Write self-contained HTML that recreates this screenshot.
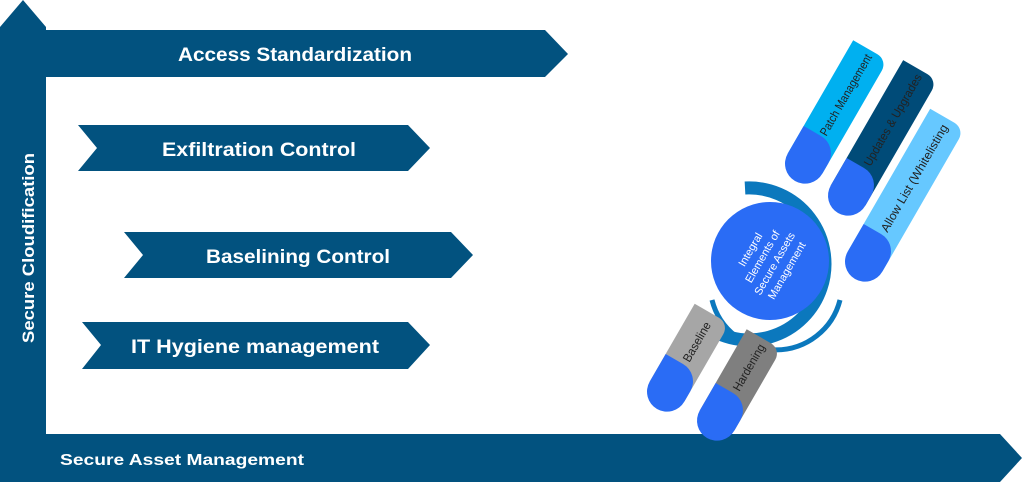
<!DOCTYPE html>
<html><head><meta charset="utf-8"><style>
html,body{margin:0;padding:0;background:#fff}
svg{display:block}
text{font-family:"Liberation Sans",sans-serif}
</style></head><body>
<svg width="1024" height="482" viewBox="0 0 1024 482">
<g fill="#02527f">
<polygon points="0,27 23,0 46,27 46,482 0,482"/>
<polygon points="46,30 545,30 568,54 545,77 46,77"/>
<polygon points="78,125 408,125 430,148 408,171 78,171 97,148"/>
<polygon points="124,232 451,232 473,255 451,278 124,278 143,255"/>
<polygon points="82,322 408,322 430,345 408,369 82,369 101,345"/>
<polygon points="0,434 1000,434 1022,458 1000,482 0,482"/>
</g>
<g fill="#fff" font-weight="bold">
<text x="295" y="61" font-size="19" text-anchor="middle" textLength="234" lengthAdjust="spacingAndGlyphs">Access Standardization</text>
<text x="259" y="156" font-size="19" text-anchor="middle" textLength="194" lengthAdjust="spacingAndGlyphs">Exfiltration Control</text>
<text x="298" y="263" font-size="19" text-anchor="middle" textLength="184" lengthAdjust="spacingAndGlyphs">Baselining Control</text>
<text x="255" y="353" font-size="19" text-anchor="middle" textLength="248" lengthAdjust="spacingAndGlyphs">IT Hygiene management</text>
<text x="60" y="465" font-size="16" textLength="244" lengthAdjust="spacingAndGlyphs">Secure Asset Management</text>
<text transform="translate(34,248) rotate(-90)" font-size="17" text-anchor="middle" textLength="190" lengthAdjust="spacingAndGlyphs">Secure Cloudification</text>
</g>
<!-- ring -->
<path d="M745,188 A76,76 0 1 1 700,322" fill="none" stroke="#0b78bd" stroke-width="13"/>
<path d="M712,300 A66,66 0 0 0 840,300" fill="none" stroke="#0b78bd" stroke-width="5"/>
<circle cx="770" cy="261" r="59" fill="#2a6cf5"/>
<g transform="translate(770,261) rotate(-60)" fill="#fff" font-size="11" text-anchor="middle">
<text x="0" y="-19">Integral</text>
<text x="0" y="-5">Elements of</text>
<text x="0" y="9">Secure Assets</text>
<text x="0" y="23">Management</text>
</g>
<!-- pills -->
<g transform="translate(810,155) rotate(30)">
<path d="M-20,10 L-20,-121 L8,-121 A12,12 0 0 1 20,-109 L20,10 Z" fill="#00b0f0"/>
<path d="M-20,-22 L0,-22 A20,20 0 0 1 20,-2 L20,10 A20,20 0 0 1 -20,10 Z" fill="#2a6cf5"/>
<text transform="translate(5,-24) rotate(-90)" font-size="12" fill="#222" textLength="92" lengthAdjust="spacingAndGlyphs">Patch Management</text>
</g>
<g transform="translate(853,187) rotate(30)">
<path d="M-20,10 L-20,-135 L8,-135 A12,12 0 0 1 20,-123 L20,10 Z" fill="#004b78"/>
<path d="M-20,-22 L0,-22 A20,20 0 0 1 20,-2 L20,10 A20,20 0 0 1 -20,10 Z" fill="#2a6cf5"/>
<text transform="translate(5,-26) rotate(-90)" font-size="12" fill="#222" textLength="104" lengthAdjust="spacingAndGlyphs">Updates &amp; Upgrades</text>
</g>
<g transform="translate(870,253) rotate(30)">
<path d="M-20,10 L-20,-155 L8,-155 A12,12 0 0 1 20,-143 L20,10 Z" fill="#66c8ff"/>
<path d="M-20,-22 L0,-22 A20,20 0 0 1 20,-2 L20,10 A20,20 0 0 1 -20,10 Z" fill="#2a6cf5"/>
<text transform="translate(5,-26) rotate(-90)" font-size="12" fill="#222" textLength="122" lengthAdjust="spacingAndGlyphs">Allow List (Whitelisting</text>
</g>
<g transform="translate(672,383) rotate(30)">
<path d="M-20,10 L-20,-80 L8,-80 A12,12 0 0 1 20,-68 L20,10 Z" fill="#a6a6a6"/>
<path d="M-20,-22 L0,-22 A20,20 0 0 1 20,-2 L20,10 A20,20 0 0 1 -20,10 Z" fill="#2a6cf5"/>
<text transform="translate(5,-26) rotate(-90)" font-size="12" fill="#222" textLength="44" lengthAdjust="spacingAndGlyphs">Baseline</text>
</g>
<g transform="translate(722,412) rotate(30)">
<path d="M-20,10 L-20,-84 L8,-84 A12,12 0 0 1 20,-72 L20,10 Z" fill="#7f7f7f"/>
<path d="M-20,-22 L0,-22 A20,20 0 0 1 20,-2 L20,10 A20,20 0 0 1 -20,10 Z" fill="#2a6cf5"/>
<text transform="translate(5,-26) rotate(-90)" font-size="12" fill="#222" textLength="52" lengthAdjust="spacingAndGlyphs">Hardening</text>
</g>
</svg>
</body></html>
